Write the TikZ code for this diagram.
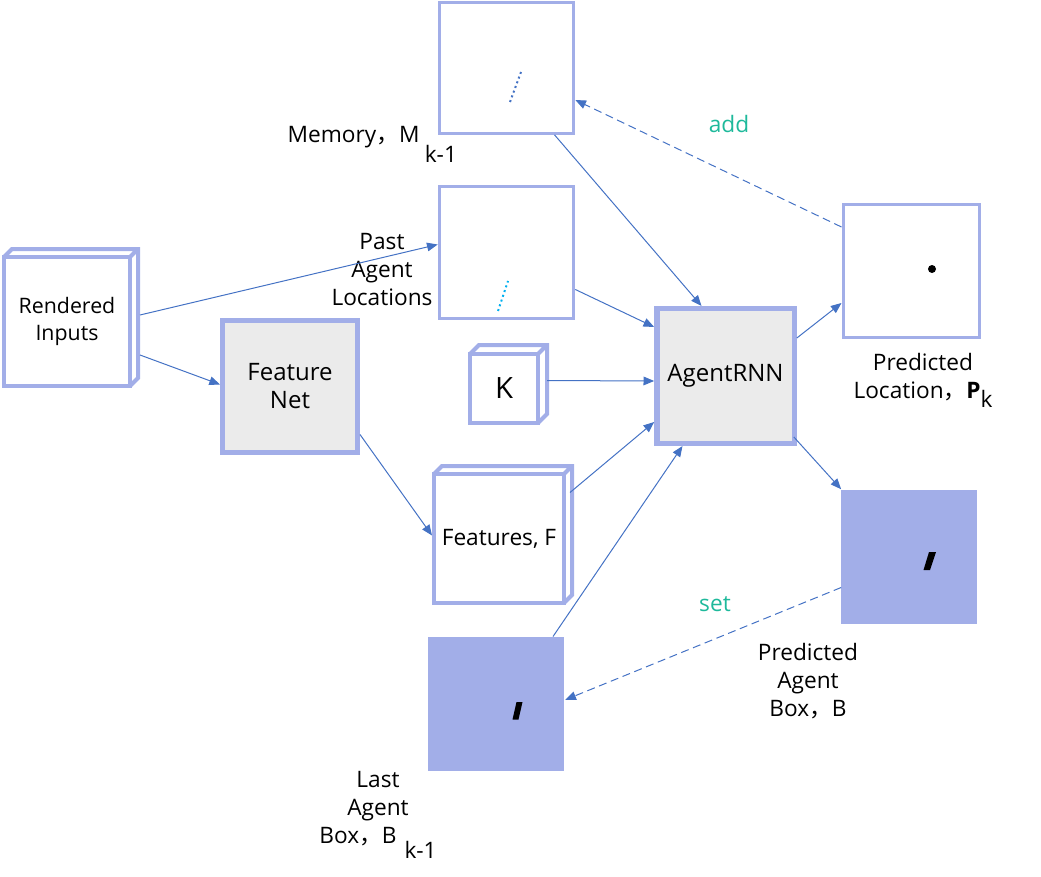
\documentclass[tikz,border=0pt]{standalone}
\usepackage{fontspec}
\setmainfont{Open Sans}
\newfontfamily\cjk{Noto Sans CJK SC}
\usetikzlibrary{arrows.meta,positioning}

% Define colors
\definecolor{boxline}{RGB}{162,174,232}
\definecolor{netgray}{RGB}{235,235,235}
\definecolor{linkblue}{RGB}{68,114,196}
\definecolor{trailcyan}{RGB}{0,176,240}
\definecolor{noteteal}{RGB}{30,185,155}

\tikzset{
  plainbox/.style={draw=boxline, line width=2.25pt, fill=white, minimum width=101pt, minimum height=98pt},
  netbox/.style={draw=boxline, fill=netgray, align=center},
  cubebox/.style={draw=boxline, line width=3pt, fill=white, outer sep=0pt, align=center},
  cubeedge/.style={draw=boxline, line width=3pt, line join=miter},
  mapbox/.style={fill=boxline, minimum width=102pt, minimum height=100.5pt},
  link/.style={->, draw=linkblue, line width=0.75pt},
  dashlink/.style={link, dash pattern=on 6pt off 3.5pt},
  trail/.style={line width=1.5pt, dash pattern=on 1.5pt off 2.25pt},
  caption/.style={align=center, inner sep=0pt, anchor=north},
  note/.style={text=noteteal}
}

\begin{document}
\begin{tikzpicture}[x=0.75pt, y=-0.75pt, font=\fontsize{17}{21}\selectfont,
    >={Triangle[length=8pt,width=6.5pt]}]
  \useasboundingbox (0,0) rectangle (1041,877);

  % Inputs and feature net
  \node[cubebox, minimum width=94.5pt, minimum height=96.75pt, font=\fontsize{16}{20}\selectfont]
    (inputs) at (67,321.5) {Rendered\\Inputs};
  \node[netbox, line width=3.75pt, minimum width=101.25pt, minimum height=99pt, font=\fontsize{18}{21}\selectfont]
    (featnet) at (290,386.5) {Feature\\Net};
  \node[cubebox, minimum width=97.5pt, minimum height=96.75pt] (feats) at (499,538.5) {Features, F};
  \node[cubebox, minimum width=51pt, minimum height=51.75pt, font=\fontsize{22}{26}\selectfont]
    (kbox) at (504,388.5) {K};

  % Maps
  \node[plainbox] (memory) at (506.5,68) {};
  \node[plainbox, minimum height=99pt] (past) at (506.5,252.5) {};
  \node[plainbox, minimum width=102pt, minimum height=100pt] (predloc) at (911,271) {};
  \node[mapbox] (predbox) at (909.4,556.5) {};
  \node[mapbox] (lastbox) at (496,703.8) {};

  % Recurrent core
  \node[netbox, line width=4pt, minimum width=103pt, minimum height=101pt, font=\fontsize{18}{21}\selectfont]
    (rnn) at (725.5,376) {AgentRNN};

  % Back faces of the cubes
  \foreach \c/\d in {inputs/8, kbox/9, feats/8}
    \draw[cubeedge] (\c.north west) -- ++(\d,-\d) -| ([shift={(\d,-\d)}]\c.south east)
      -- (\c.south east) (\c.north east) -- ++(\d,-\d);

  % Contents of the maps
  \draw[trail, linkblue] (510,102) -- (521,72);
  \draw[trail, trailcyan] (498,311) -- (508,281);
  \fill (932,269) circle (3pt);
  \fill (929,552) -- (936,552) -- (930,570) -- (923.5,570) -- cycle;
  \fill (516.5,702) -- (522.5,702) -- (518.5,719.5) -- (512.5,719.5) -- cycle;

  % Labels
  \node[anchor=base west] (lblmem) at (283,143) {Memory{\cjk ，}M\hspace{4pt}\raisebox{-14.5pt}{k-1}};
  \node[caption] (lblpast) at (382,233) {Past\\Agent\\Locations};
  \node[caption] (lblploc) at (923,353) {Predicted\\Location{\cjk ，}\textbf{P}\raisebox{-7pt}{k}};
  \node[caption] (lblpbox) at (808,643) {Predicted\\Agent\\Box{\cjk ，}B};
  \node[caption] (lbllast) at (378,771) {Last\\Agent\\Box{\cjk ，}B\hspace{6pt}\raisebox{-11pt}{k-1}};
  \node[note] (lbladd) at (729,124) {add};
  \node[note] (lblset) at (715,604) {set};

  % Connections
  \draw[link] ([shift={(10,-6.5)}]inputs.east) -- ([shift={(0,-8)}]past.west);
  \draw[link] ([shift={(10,33.5)}]inputs.east) -- ([shift={(0,-2)}]featnet.west);
  \draw[link] ([shift={(0,48)}]featnet.east) -- ([shift={(-2,-3)}]feats.west);
  \draw[link] ([shift={(48,0)}]memory.south) -- ([shift={(-24,0)}]rnn.north);
  \draw[link] ([shift={(0,37)}]past.east) -- ([shift={(0,-49)}]rnn.west);
  \draw[link] ([shift={(9,-8)}]kbox.east) -- ([shift={(0,5)}]rnn.west);
  \draw[link] ([shift={(6,-46)}]feats.east) -- ([shift={(0,46)}]rnn.west);
  \draw[link] ([shift={(57,0)}]lastbox.north) -- ([shift={(-43,0)}]rnn.south);
  \draw[link] ([shift={(0,-38)}]rnn.east) -- ([shift={(0,32)}]predloc.west);
  \draw[link] ([shift={(-3,-9)}]rnn.south east) -- (predbox.north west);
  \draw[dashlink] ([shift={(0,-44)}]predloc.west) -- ([shift={(0,32)}]memory.east);
  \draw[dashlink] ([shift={(0,31)}]predbox.west) -- ([shift={(1,-4)}]lastbox.east);
\end{tikzpicture}
\end{document}
